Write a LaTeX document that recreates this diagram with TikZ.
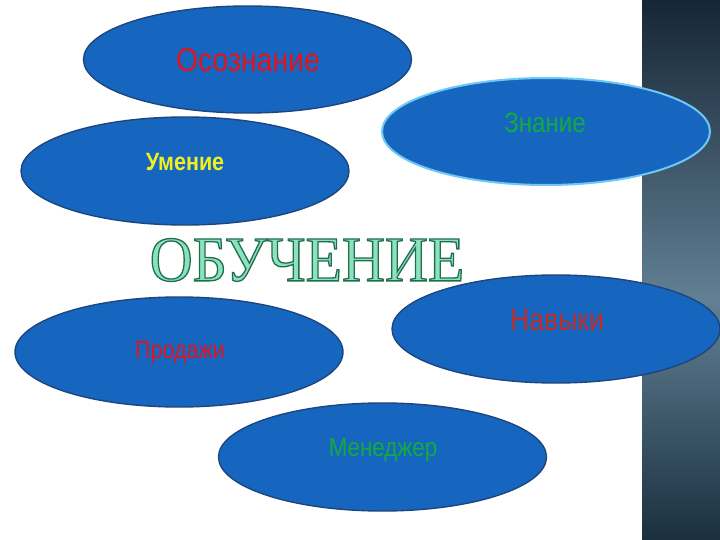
\documentclass[tikz,border=0pt]{standalone}
\usepackage{fontspec}
\usetikzlibrary{shapes.geometric}
\newfontfamily\condfont{Liberation Sans}[FakeStretch=0.86]
\newfontfamily\titlefont{Liberation Serif}[FakeStretch=0.93]
\definecolor{ellfill}{RGB}{22,102,192}
\definecolor{elldraw}{RGB}{28,70,125}
\definecolor{lightedge}{RGB}{110,200,245}
\definecolor{stripTop}{RGB}{22,38,54}
\definecolor{stripMid}{RGB}{98,128,148}
\definecolor{stripBot}{RGB}{26,48,64}
\definecolor{txtred}{RGB}{225,20,30}
\definecolor{txtdred}{RGB}{190,45,40}
\definecolor{txtgreen}{RGB}{20,170,60}
\definecolor{txtyellow}{RGB}{240,240,30}
\definecolor{titlefill}{RGB}{140,225,190}
\newcommand\outlinetext[1]{\special{pdf:literal direct 2 Tr 1.3 w 0.12 0.43 0.31 RG}#1\special{pdf:literal direct 0 Tr}}
\tikzset{
  ell/.style={ellipse, draw=elldraw, line width=1.4pt, fill=ellfill,
    minimum width=328pt, minimum height=107pt, inner sep=0pt},
  lbl/.style={font=\condfont\fontsize{#1}{#1}\selectfont, inner sep=0pt, anchor=center}
}
\begin{document}
\begin{tikzpicture}[x=1pt,y=-1pt]
\useasboundingbox (0,0) rectangle (720,540);
\fill[white] (0,0) rectangle (720,540);
% right strip
\shade[top color=stripTop, bottom color=stripMid] (642,0) rectangle (720,300);
\shade[top color=stripMid, bottom color=stripBot] (642,300) rectangle (720,540);
% ellipses
\node[ell] (osoz) at (247.5,59.5) {};
\node[ell, draw=lightedge, line width=2pt] (znan) at (546,131.5) {};
\node[ell, minimum height=108pt] (umen) at (185,171) {};
\node[ell, minimum height=108pt] (navy) at (556,329) {};
\node[ell, minimum height=110pt] (prod) at (179,352) {};
\node[ell, minimum height=108pt] (mene) at (382.5,457) {};
% labels
\node[lbl=33, text=txtred] (tosoz) at (248,60) {Осознание};
\node[lbl=28, text=txtgreen] (tznan) at (545,123) {Знание};
\node[lbl=25, text=txtyellow, font=\condfont\bfseries\fontsize{25}{25}\selectfont] (tumen) at (185,162) {Умение};
\node[lbl=31, text=txtdred] (tnavy) at (557,320) {Навыки};
\node[lbl=25, text=txtred] (tprod) at (180,352) {Продажи};
\node[lbl=26, text=txtgreen] (tmene) at (383,450) {Менеджер};
% title
\node[inner sep=0pt, font=\titlefont\fontsize{64}{64}\selectfont, text=titlefill] (title) at (307,260) {\outlinetext{ОБУЧЕНИЕ}};
\end{tikzpicture}
\end{document}
